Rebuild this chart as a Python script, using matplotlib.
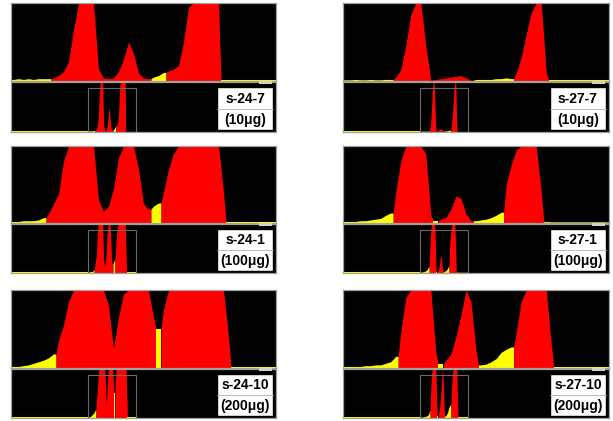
import numpy as np
import matplotlib.pyplot as plt
from matplotlib.patches import Rectangle

# sample labels, in reading order (left column s-24, right column s-27)
names = ['s-24-7', 's-27-7', 's-24-1', 's-27-1', 's-24-10', 's-27-10']
doses = ['(10μg)', '(10μg)', '(100μg)', '(100μg)', '(200μg)', '(200μg)']

# histogram counts, 53 channels each, % of full scale (display clips at 100)
h_24_7 = [2, 3, 2, 3, 2, 3, 3, 3, 4, 7, 12, 25, 65, 100, 100, 100, 100, 15,
          4, 3, 4, 12, 28, 50, 35, 10, 4, 3, 5, 7, 11, 13, 15, 20, 50, 95,
          100, 100, 100, 100, 100, 100, 1, 1, 1, 1, 1, 1, 1, 1, 1, 1, 1]
h_27_7 = [1.5, 1.5, 2, 1.5, 1.5, 2, 1.5, 1.5, 2, 2, 5, 14, 45, 85, 100, 100, 45,
          1, 2, 3, 4, 5, 6, 7, 4, 1, 2, 2, 2, 2, 3, 3, 4, 3, 10, 30,
          60, 88, 100, 100, 10, 1, 1, 1, 1, 1, 1, 1, 1, 1, 1, 1, 1]
h_24_1 = [2, 2, 3, 3, 3, 4, 7, 12, 25, 38, 80, 100, 100, 100, 100, 100, 100, 30,
          15, 22, 45, 85, 100, 100, 100, 70, 25, 18, 22, 26, 40, 70, 90, 100, 100, 100,
          100, 100, 100, 100, 100, 100, 40, 1.5, 1.5, 1.5, 1.5, 1.5, 1.5, 1.5, 1.5, 1.5, 1.5]
h_27_1 = [2, 2, 2, 3, 3, 4, 5, 6, 10, 13, 40, 80, 100, 100, 100, 100, 90, 10,
          3, 5, 7, 18, 35, 32, 12, 3, 3, 4, 5, 7, 10, 14, 50, 75, 95, 100,
          100, 100, 100, 40, 2, 1.5, 1.5, 1.5, 1.5, 1.5, 1.5, 1.5, 1.5, 1.5, 1.5, 1.5, 1.5]
h_24_10 = [2, 2, 3, 4, 6, 8, 10, 13, 18, 35, 55, 85, 100, 100, 100, 100, 100, 100,
           100, 80, 25, 65, 95, 100, 100, 100, 100, 100, 65, 50, 75, 100, 100, 100, 100, 100,
           100, 100, 100, 100, 100, 100, 100, 40, 1.5, 1.5, 1.5, 1.5, 1.5, 1.5, 1.5, 1.5, 1.5]
h_27_10 = [2, 2, 2, 2, 3, 3, 4, 4, 6, 8, 15, 45, 90, 100, 100, 100, 100, 100,
           20, 5, 10, 18, 40, 68, 100, 85, 22, 4, 5, 8, 12, 20, 24, 27, 45, 85,
           100, 100, 100, 100, 100, 30, 1.5, 1.5, 1.5, 1.5, 1.5, 1.5, 1.5, 1.5, 1.5, 1.5, 1.5]

# gate membership per channel: R = gated (red), Y = ungated (yellow)
g_24_7 = 'Y' * 8 + 'R' * 20 + 'Y' * 3 + 'R' * 11 + 'Y' * 11
g_27_7 = 'Y' * 10 + 'R' * 16 + 'Y' * 8 + 'R' * 7 + 'Y' * 12
g_24_1 = 'Y' * 7 + 'R' * 21 + 'Y' * 2 + 'R' * 13 + 'Y' * 10
g_27_1 = 'Y' * 10 + 'R' * 8 + 'Y' * 1 + 'R' * 7 + 'Y' * 6 + 'R' * 8 + 'Y' * 13
g_24_10 = 'Y' * 9 + 'R' * 20 + 'Y' * 1 + 'R' * 14 + 'Y' * 9
g_27_10 = 'Y' * 11 + 'R' * 8 + 'Y' * 1 + 'R' * 7 + 'Y' * 7 + 'R' * 8 + 'Y' * 11

# low-channel background shown left of the zoom window in the overview strip
overview_noise = [2.5, 1.5, 2.5, 2, 3, 2]

counts = [h_24_7, h_27_7, h_24_1, h_27_1, h_24_10, h_27_10]
gates = [g_24_7, g_27_7, g_24_1, g_27_1, g_24_10, g_27_10]

W, H = 613, 421
fig = plt.figure(figsize=(W / 100, H / 100), dpi=100)
fig.patch.set_facecolor('white')

rows = [(3, 81, 132), (146, 223, 273), (290, 368, 418)]
cols = [(11, 276), (343, 609)]
colmap = {'R': '#ff0000', 'Y': '#ffff00'}
win_x0, win_w = 0.29, 0.18


def px_rect(x0, x1, y0, y1):
    return [x0 / W, 1 - y1 / H, (x1 - x0) / W, (y1 - y0) / H]


def style(ax):
    ax.set_facecolor('black')
    ax.set_xticks([])
    ax.set_yticks([])
    for s in ax.spines.values():
        s.set_color('#a0a0a0')
        s.set_linewidth(0.9)


def draw_hist(ax, h, gate, x_off=0.0, x_scale=1.0):
    # area through channel centres, split into runs of equal gate colour
    n = len(h)
    edges = np.concatenate([[h[0]], (h[:-1] + h[1:]) / 2, [h[-1]]])
    for i in range(1, n):
        if gate[i] != gate[i - 1]:
            edges[i] = min(h[i - 1], h[i])
    a = 0
    while a < n:
        b = a
        while b + 1 < n and gate[b + 1] == gate[a]:
            b += 1
        xs = np.concatenate([[a], np.arange(a, b + 1) + 0.5, [b + 1]])
        ys = np.concatenate([[edges[a]], h[a:b + 1], [edges[b + 1]]])
        ax.fill_between(x_off + xs * x_scale, 0, ys, color=colmap[gate[a]],
                        linewidth=0)
        a = b + 1


for k in range(6):
    r, c = divmod(k, 2)
    y0, ym, y1 = rows[r]
    x0, x1 = cols[c]
    h = np.array(counts[k], dtype=float)
    n = len(h)

    # main (zoomed) histogram
    ax = fig.add_axes(px_rect(x0, x1, y0, ym))
    style(ax)
    draw_hist(ax, h, gates[k])
    ax.set_xlim(0, n)
    ax.set_ylim(0, 100)

    # overview strip
    ax2 = fig.add_axes(px_rect(x0, x1, ym + 1, y1))
    style(ax2)
    draw_hist(ax2, h, gates[k], x_off=win_x0, x_scale=win_w / n)
    ax2.bar([0], [overview_noise[k]], width=win_x0, align='edge',
            color='#ffff00', linewidth=0)
    ax2.set_xlim(0, 1)
    ax2.set_ylim(0, 100)
    ax2.add_patch(Rectangle((win_x0, 0), win_w, 0.88, transform=ax2.transAxes,
                            fill=False, edgecolor='#6a6a6a', lw=0.8, zorder=5))
    ax2.add_patch(Rectangle((0.935, 0.96), 0.05, 0.06, transform=ax2.transAxes,
                            facecolor='#d0d0d0', edgecolor='none', zorder=5,
                            clip_on=False))

    # sample label box
    ax2.add_patch(Rectangle((0.777, 0.05), 0.212, 0.85, transform=ax2.transAxes,
                            facecolor='white', edgecolor='black', lw=1.0, zorder=6))
    ax2.plot([0.777, 0.989], [0.46, 0.46], transform=ax2.transAxes,
             color='#b0b0b0', lw=0.6, zorder=7)
    ax2.text(0.883, 0.665, names[k], transform=ax2.transAxes, ha='center',
             va='center', fontsize=10, fontweight='bold',
             family=['Liberation Sans', 'DejaVu Sans'], zorder=8)
    ax2.text(0.883, 0.245, doses[k], transform=ax2.transAxes, ha='center',
             va='center', fontsize=10, fontweight='bold',
             family=['Liberation Sans', 'DejaVu Sans'], zorder=8)

plt.savefig('out.png', dpi=100, facecolor='white')
